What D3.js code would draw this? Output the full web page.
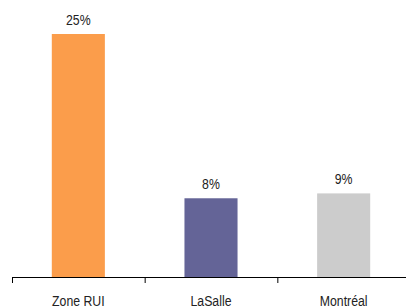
<!DOCTYPE html>
<html>
<head>
<meta charset="utf-8">
<script src="https://cdn.jsdelivr.net/npm/d3@7"></script>
<style>
  body { margin: 0; background: #fff; }
  svg text { font-family: "Liberation Sans Narrow", "Arial Narrow", "Liberation Sans", Arial, sans-serif; font-size: 15px; fill: #222; }
</style>
</head>
<body>
<script>
// data
const categories = ['Zone RUI', 'LaSalle', 'Montréal'];
const values = [25, 8.1, 8.6];
const labels = ['25%', '8%', '9%'];
const colors = ['#fb9d4b', '#646497', '#cccccc'];

const width = 406, height = 308;
const baseY = 277;
const squeeze = 0.82; // no narrow font installed, so squash the regular one

const svg = d3.select('body').append('svg')
  .attr('width', width)
  .attr('height', height);

const x = d3.scaleBand()
  .domain(categories)
  .range([12, 410])
  .paddingInner(0.6)
  .paddingOuter(0.3);

const y = d3.scaleLinear()
  .domain([0, 25])
  .range([baseY, 34]);

svg.selectAll('rect.bar')
  .data(values)
  .enter().append('rect')
  .attr('class', 'bar')
  .attr('x', (d, i) => x(categories[i]))
  .attr('y', d => y(d))
  .attr('width', x.bandwidth())
  .attr('height', d => baseY - y(d))
  .attr('fill', (d, i) => colors[i]);

svg.selectAll('text.val')
  .data(values)
  .enter().append('text')
  .attr('class', 'val')
  .attr('transform', (d, i) => 'translate(' + (x(categories[i]) + x.bandwidth() / 2) + ',' + (y(d) - 9) + ') scale(' + squeeze + ',1)')
  .attr('text-anchor', 'middle')
  .text((d, i) => labels[i]);

// axis line + ticks at the band boundaries
const step = x.step();
const g = svg.append('g');
g.append('line')
  .attr('x1', 12).attr('x2', width)
  .attr('y1', baseY + 0.5).attr('y2', baseY + 0.5)
  .attr('stroke', '#000');
g.selectAll('line.tick')
  .data(categories)
  .enter().append('line')
  .attr('class', 'tick')
  .attr('x1', (d, i) => 12.5 + i * step).attr('x2', (d, i) => 12.5 + i * step)
  .attr('y1', baseY).attr('y2', baseY + 6)
  .attr('stroke', '#000');

svg.selectAll('text.cat')
  .data(categories)
  .enter().append('text')
  .attr('class', 'cat')
  .attr('transform', d => 'translate(' + (x(d) + x.bandwidth() / 2) + ',306) scale(' + squeeze + ',1)')
  .attr('text-anchor', 'middle')
  .text(d => d);
</script>
</body>
</html>
